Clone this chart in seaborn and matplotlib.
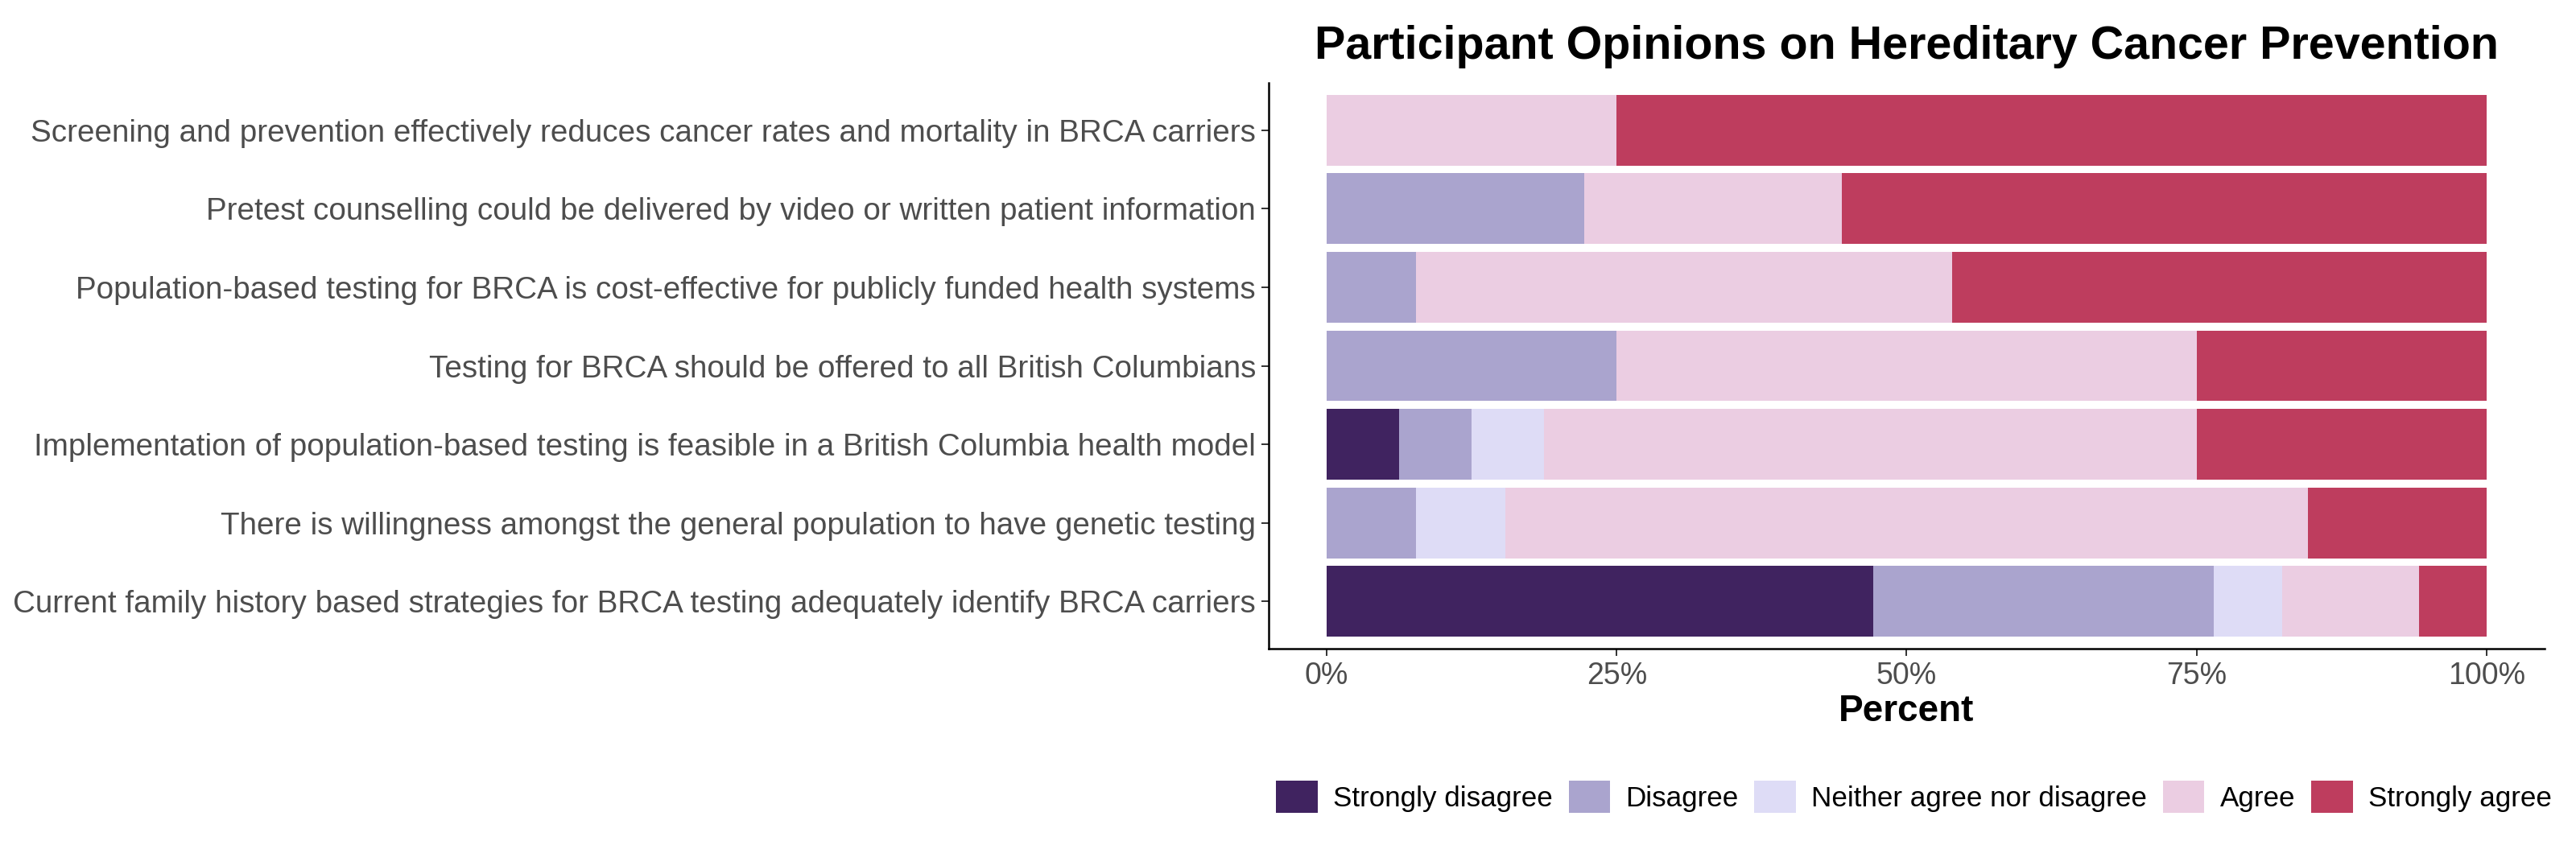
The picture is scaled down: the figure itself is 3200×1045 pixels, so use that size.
import numpy as np
import pandas as pd
import seaborn as sns
import matplotlib.pyplot as plt
from matplotlib.patches import Patch


# ------------------------ DATA ------------------------

statements = [
    "Screening and prevention effectively reduces cancer rates and mortality in BRCA carriers",
    "Pretest counselling could be delivered by video or written patient information",
    "Population-based testing for BRCA is cost-effective for publicly funded health systems",
    "Testing for BRCA should be offered to all British Columbians",
    "Implementation of population-based testing is feasible in a British Columbia health model",
    "There is willingness amongst the general population to have genetic testing",
    "Current family history based strategies for BRCA testing adequately identify BRCA carriers",
]

responses = ["Strongly disagree", "Disagree", "Neither agree nor disagree", "Agree", "Strongly agree"]

# percent of participants per statement
strongly_disagree = [0, 0, 0, 0, 6.25, 0, 47.1]
disagree = [0, 22.2, 7.7, 25, 6.25, 7.7, 29.4]
neither = [0, 0, 0, 0, 6.25, 7.7, 5.9]
agree = [25, 22.2, 46.2, 50, 56.25, 69.2, 11.8]
strongly_agree = [75, 55.6, 46.1, 25, 25, 15.4, 5.8]

colors = ["#402360", "#aaa4ce", "#dedcf6", "#ebcde2", "#be3d5e"]


# ------------------------ TABLE ------------------------

df = pd.DataFrame(
    {
        "Statement": statements,
        "Strongly disagree": strongly_disagree,
        "Disagree": disagree,
        "Neither agree nor disagree": neither,
        "Agree": agree,
        "Strongly agree": strongly_agree,
    }
)
# cumulative share up to each response level (stacked bars drawn back to front)
cum = df[responses].cumsum(axis=1)
cum = cum.div(cum["Strongly agree"], axis=0) * 100
cum["Statement"] = statements


# ------------------------ PLOT ------------------------

sns.set_style("white")
plt.rcParams["font.family"] = ["Liberation Sans", "DejaVu Sans"]
plt.rcParams["text.color"] = "black"

fig = plt.figure(figsize=(32, 10.45), dpi=100)
ax = fig.add_axes([0.4925, 0.2287, 0.4953, 0.6727])

for resp, col in zip(responses[::-1], colors[::-1]):
    sns.barplot(
        data=cum,
        x=resp,
        y="Statement",
        order=statements,
        color=col,
        width=0.9,
        linewidth=0,
        saturation=1,
        ax=ax,
    )

ax.set_xlim(-5, 105)
ax.set_ylim(len(statements) - 0.4, -0.6)
ax.set_xticks([0, 25, 50, 75, 100])
ax.set_xticklabels(["0%", "25%", "50%", "75%", "100%"])

for side in ["top", "right"]:
    ax.spines[side].set_visible(False)
for side in ["left", "bottom"]:
    ax.spines[side].set_linewidth(1.8)
    ax.spines[side].set_color("black")

ax.tick_params(axis="both", which="both", length=6.5, width=1.4, color="#333333",
               labelcolor="#4d4d4d", left=True, bottom=True)
ax.tick_params(axis="y", labelsize=27.8, pad=5)
ax.tick_params(axis="x", labelsize=27, pad=5)

ax.set_ylabel("")
ax.set_xlabel("Percent", fontsize=33, fontweight="bold", color="black")
ax.xaxis.set_label_coords(0.5, -0.111)
ax.xaxis.label.set_va("center")

fig.text(0.7401, 1 - 73 / 1045, "Participant Opinions on Hereditary Cancer Prevention",
         ha="center", va="baseline", fontsize=41.3, fontweight="bold", color="black")

handles = [Patch(facecolor=c, edgecolor="none", label=r) for r, c in zip(responses, colors)]
fig.legend(handles=handles, loc="center", bbox_to_anchor=(0.743, 0.0526), ncol=5,
           frameon=False, fontsize=25.2, handlelength=1.47, handleheight=1.41,
           handletextpad=0.56, columnspacing=0.56, borderpad=0, labelcolor="black")

fig.savefig("out.png", dpi=100)
